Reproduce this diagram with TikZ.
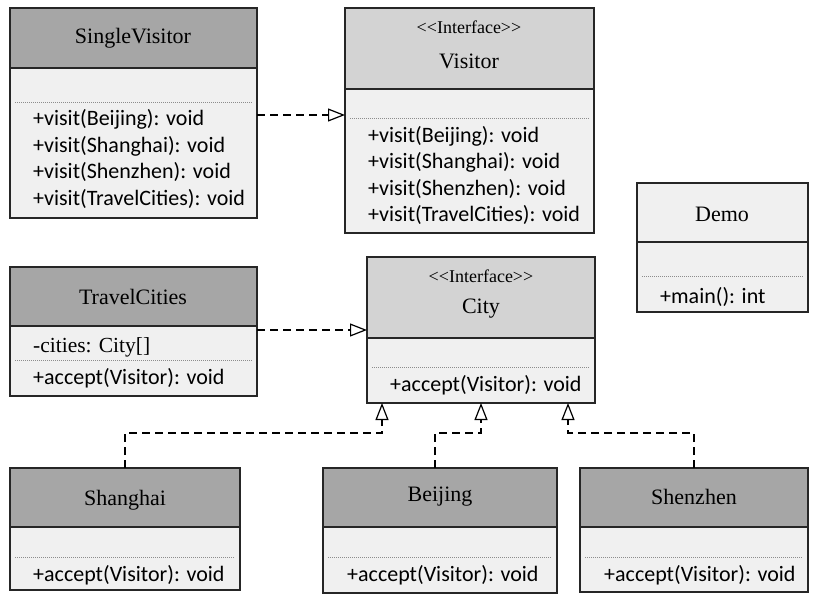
\documentclass[tikz,border=0pt]{standalone}
\usepackage{fontspec}
\setmainfont{Liberation Serif}[Ligatures=NoCommon]
\newfontfamily\methfont{Carlito}
\newfontfamily\stereofont{Liberation Serif}[Ligatures=NoCommon]
\usetikzlibrary{arrows.meta,calc}
\definecolor{hdark}{HTML}{A6A6A6}
\definecolor{hlight}{HTML}{D3D3D3}
\definecolor{bodycol}{HTML}{F0F0F0}
\newcommand\umlbox[7]{%
  \node[fill=bodycol, inner sep=0pt, outer sep=0pt, anchor=north west,
        minimum width={(#4-#2)*1pt}, minimum height={(#5-#3)*1pt}] (#1) at (#2,#3) {};
  \fill[#7] (#1.north west) rectangle (#1.east |- 0,#6);
  \draw[boxline] (#1.west |- 0,#6) -- (#1.east |- 0,#6);
  \draw[boxline] (#1.north west) rectangle (#1.south east);
}
\newcommand\sepline[2]{\draw[sepdot] ($(#1.west |- 0,#2)+(5,0)$) -- ($(#1.east |- 0,#2)+(-5,0)$);}
\newcommand\stereotxt{\char"3C\char"3C Interface\char"3E\char"3E}
\begin{document}
\begin{tikzpicture}[x=1pt,y=-1pt,
  boxline/.style={line width=1.1pt,black!85},
  sepdot/.style={line width=0.5pt,black!45,dash pattern=on 1pt off 1pt},
  title/.style={inner sep=0pt,font=\fontsize{22}{24}\selectfont},
  stereo/.style={inner sep=0pt,font=\stereofont\fontsize{18}{20}\selectfont},
  meth/.style={inner sep=0pt,anchor=west,font=\methfont\fontsize{22}{26}\selectfont},
  attr/.style={inner sep=0pt,anchor=west,font=\fontsize{21.5}{24}\selectfont},
  realize/.style={line width=1.2pt,dash pattern=on 8pt off 5pt,
     -{Triangle[open,length=17pt,width=13pt,line width=1.2pt]}}]
\useasboundingbox (0,0) rectangle (826,605);
\fill[white] (0,0) rectangle (826,605);

% SingleVisitor
\umlbox{sv}{10}{8}{257}{218}{68}{hdark}
\node[title] (svt) at (133,38) {SingleVisitor};
\sepline{sv}{102}
\node[meth] (sv1) at (33,119) {+visit(Beijing): void};
\node[meth] (sv2) at (33,146) {+visit(Shanghai): void};
\node[meth] (sv3) at (33,172) {+visit(Shenzhen): void};
\node[meth] (sv4) at (33,199) {+visit(TravelCities): void};

% Visitor
\umlbox{vi}{345}{8}{594}{233}{89}{hlight}
\node[stereo] (vis) at (469,27) {\stereotxt};
\node[title] (vit) at (469,61) {Visitor};
\sepline{vi}{118}
\node[meth] (vi1) at (368,136) {+visit(Beijing): void};
\node[meth] (vi2) at (368,162) {+visit(Shanghai): void};
\node[meth] (vi3) at (368,189) {+visit(Shenzhen): void};
\node[meth] (vi4) at (368,215) {+visit(TravelCities): void};

% TravelCities
\umlbox{tc}{10}{267}{257}{396}{326}{hdark}
\node[title] (tct) at (133,297) {TravelCities};
\node[attr] (tc1) at (33,347) {-cities: City[]};
\sepline{tc}{360}
\node[meth] (tc2) at (33,378) {+accept(Visitor): void};

% City
\umlbox{ci}{367}{257}{595}{403}{338}{hlight}
\node[stereo] (cis) at (481,276) {\stereotxt};
\node[title] (cit) at (481,309) {City};
\sepline{ci}{367}
\node[meth] (ci1) at (390,385) {+accept(Visitor): void};

% Demo
\umlbox{de}{637}{183}{808}{312}{242}{bodycol}
\node[title] (det) at (722,214) {Demo};
\sepline{de}{276}
\node[meth] (de1) at (660,297) {+main(): int};

% Shanghai
\umlbox{sh}{10}{468}{240}{590}{527}{hdark}
\node[title] (sht) at (125,500) {Shanghai};
\sepline{sh}{557}
\node[meth] (sh1) at (33,575) {+accept(Visitor): void};

% Beijing
\umlbox{bj}{323}{468}{557}{593}{527}{hdark}
\node[title] (bjt) at (440,497) {Beijing};
\sepline{bj}{557}
\node[meth] (bj1) at (347,575) {+accept(Visitor): void};

% Shenzhen
\umlbox{sz}{580}{468}{808}{592}{527}{hdark}
\node[title] (szt) at (694,497) {Shenzhen};
\sepline{sz}{557}
\node[meth] (sz1) at (604,575) {+accept(Visitor): void};

% connectors
\draw[realize] (sv.east |- 0,115) -- (vi.west |- 0,115);
\draw[realize] (tc.east |- 0,330) -- (ci.west |- 0,330);
\draw[realize] (sh.north) |- ($(ci.south west)+(15,30)$) -- ($(ci.south west)+(15,0)$);
\draw[realize] ($(bj.north)+(-5,0)$) |- ($(ci.south)+(0,30)$) -- (ci.south);
\draw[realize] (sz.north) |- ($(ci.south east)+(-27,30)$) -- ($(ci.south east)+(-27,0)$);
\end{tikzpicture}
\end{document}
